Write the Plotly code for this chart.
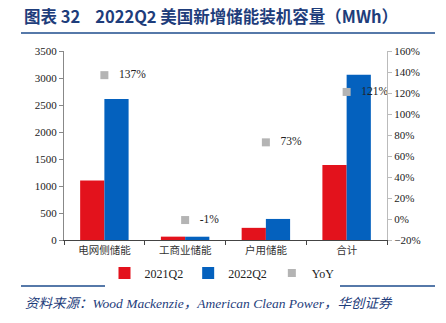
import plotly.graph_objects as go

categories = ["电网侧储能", "工商业储能", "户用储能", "合计"]
q2_2021 = [1100, 62, 225, 1387]
q2_2022 = [2610, 61, 390, 3061]
yoy = [137, -1, 73, 121]
yoy_labels = ["137%", "-1%", "73%", "121%"]

L, R, T, B = 64, 387, 51, 240
W, H = 446, 323

def px(x):
    return (x - L) / (R - L)

def py(y):
    return (B - y) / (B - T)

serif = "Liberation Serif, Noto Sans CJK SC, serif"
cjk = "Noto Sans CJK SC, Liberation Serif, serif"

fig = go.Figure()
fig.add_trace(go.Bar(x=categories, y=q2_2021, name="2021Q2", marker_color="#E3121C",
                     marker_line_width=0))
fig.add_trace(go.Bar(x=categories, y=q2_2022, name="2022Q2", marker_color="#0461BE",
                     marker_line_width=0))
fig.add_trace(go.Scatter(x=categories, y=yoy, name="YoY", yaxis="y2", mode="markers+text",
                         marker=dict(symbol="square", size=8, color="#B4B4B4"),
                         text=["   " + t for t in yoy_labels], textposition="middle right",
                         textfont=dict(family=serif, size=11.5, color="#222222")))

fig.update_layout(
    width=W, height=H,
    margin=dict(l=L, r=W - R, t=T, b=H - B),
    paper_bgcolor="white", plot_bgcolor="white",
    barmode="group", bargap=0.4, bargroupgap=0,
    showlegend=True,
    legend=dict(orientation="h", x=px(222), xanchor="center", y=py(273), yanchor="middle",
                font=dict(family=serif, size=12, color="#222222"),
                itemwidth=30, tracegroupgap=0),
    xaxis=dict(showline=True, linecolor="#444444", linewidth=1,
               ticks="outside", ticklen=4, tickcolor="#444444", tickson="boundaries",
               tickfont=dict(family=cjk, size=10.5, color="#333333")),
    yaxis=dict(range=[0, 3500], dtick=500, showgrid=False, zeroline=False,
               showline=True, linecolor="#888888", linewidth=1,
               ticks="outside", ticklen=4, tickcolor="#888888",
               tickfont=dict(family=serif, size=11, color="#222222")),
    yaxis2=dict(range=[-20, 160], dtick=20, overlaying="y", side="right",
                showgrid=False, zeroline=False, ticksuffix="%",
                showline=True, linecolor="#BBBBBB", linewidth=1,
                ticks="outside", ticklen=4, tickcolor="#BBBBBB",
                tickfont=dict(family=serif, size=11, color="#222222")),
    font=dict(family=serif),
)

fig.add_annotation(x=px(22), y=py(16), xref="paper", yref="paper", xanchor="left", yanchor="middle",
                   text="<b>图表 32    2022Q2 美国新增储能装机容量（MWh）</b>", showarrow=False,
                   font=dict(family=cjk, size=16.5, color="#1E3D7B"))
fig.add_shape(type="line", xref="paper", yref="paper", x0=px(21), x1=px(435), y0=py(33), y1=py(33),
              line=dict(color="#1E4D8C", width=1.5))
fig.add_shape(type="line", xref="paper", yref="paper", x0=px(21), x1=px(435), y0=py(286), y1=py(286),
              line=dict(color="#1E4D8C", width=1.5))
fig.add_annotation(x=px(23), y=py(303), xref="paper", yref="paper", xanchor="left", yanchor="middle",
                   text="<i>资料来源：Wood Mackenzie，American Clean Power，华创证券</i>", showarrow=False,
                   font=dict(family=serif, size=13.5, color="#1E3D7B"))

fig.write_html("out.html")
